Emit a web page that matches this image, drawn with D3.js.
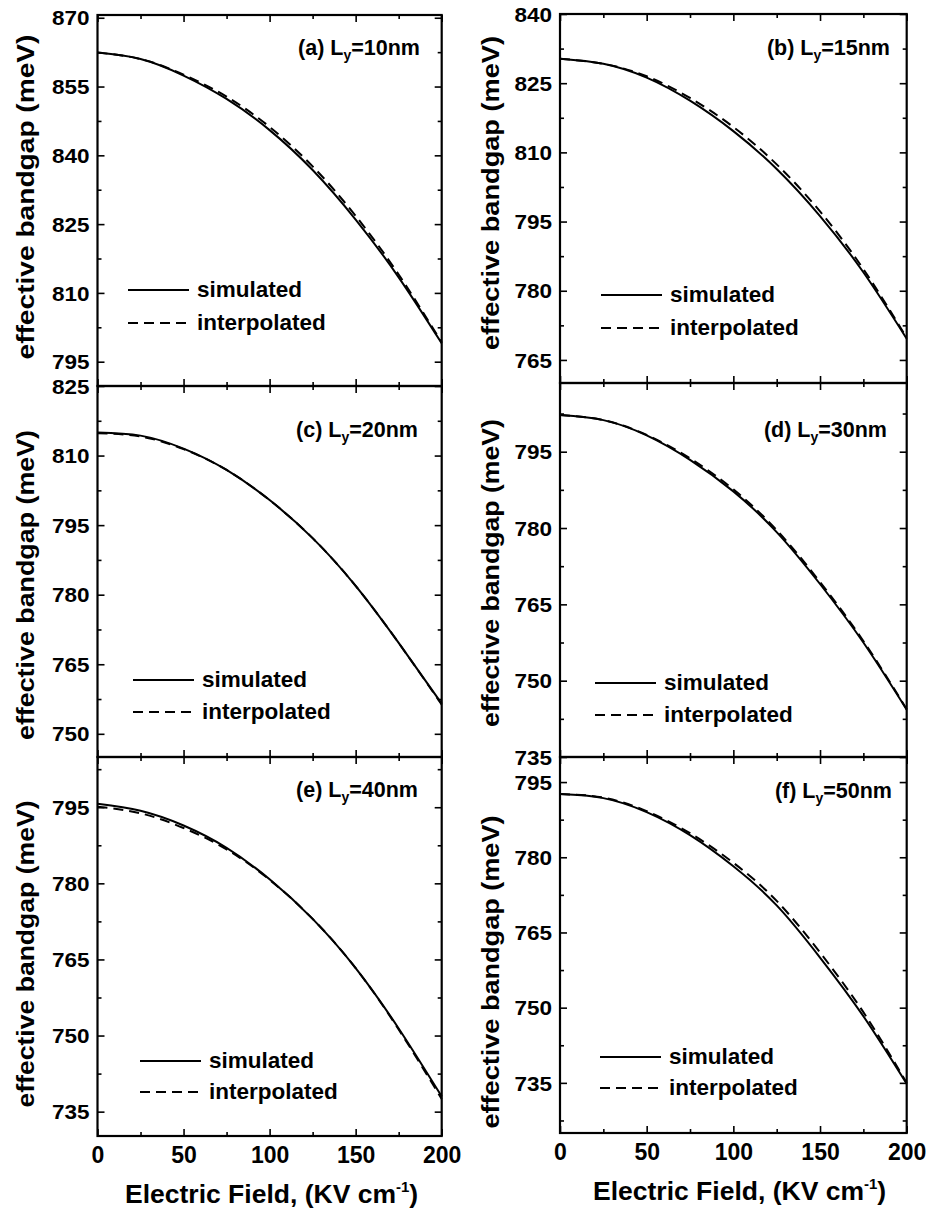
<!DOCTYPE html>
<html>
<head>
<meta charset="utf-8">
<script src="https://cdn.jsdelivr.net/npm/d3@7"></script>
<style>
  body { margin: 0; background: #fff; }
  text { font-family: "Liberation Sans", Arial, Helvetica, sans-serif; font-weight: bold; fill: #000; }
</style>
</head>
<body>
<svg id="chart" width="928" height="1216"></svg>
<script>
// ---------------- DATA ----------------
const fieldKV = [0, 25, 50, 75, 100, 125, 150, 175, 200];
const xMajorTicks = [0, 50, 100, 150, 200];
const xMinorTicks = [25, 75, 125, 175];
const panelLetters = ["a", "b", "c", "d", "e", "f"];
const widthsNm = ["10", "15", "20", "30", "40", "50"];
const legendLabels = ["simulated", "interpolated"];
const yTitle = "effective bandgap (meV)";
const xTitle = "Electric Field, (KV cm";

const simulatedA    = [862.4, 861.0, 857.4, 852.3, 845.5, 836.8, 826.0, 813.4, 799.0];
const interpolatedA = [862.4, 861.0, 857.6, 852.8, 846.2, 837.6, 826.8, 814.0, 799.2];
const simulatedB    = [830.3, 829.2, 826.2, 821.2, 814.6, 806.4, 796.2, 784.0, 769.6];
const interpolatedB = [830.3, 829.2, 826.5, 821.8, 815.5, 807.4, 797.2, 784.7, 769.8];
const simulatedC    = [815.0, 814.3, 811.5, 806.9, 800.4, 792.2, 781.9, 769.6, 756.5];
const interpolatedC = [814.8, 814.1, 811.4, 806.9, 800.4, 792.2, 781.9, 769.6, 756.3];
const simulatedD    = [802.2, 801.2, 798.2, 793.4, 787.2, 779.2, 769.0, 757.5, 744.3];
const interpolatedD = [802.2, 801.2, 798.3, 793.7, 787.6, 779.6, 769.4, 757.8, 744.4];
const simulatedE    = [795.7, 794.3, 791.4, 787.0, 780.8, 773.0, 763.3, 751.4, 738.0];
const interpolatedE = [795.1, 793.8, 790.9, 786.7, 780.7, 773.0, 763.3, 751.2, 737.5];
const simulatedF    = [792.6, 791.8, 789.0, 784.4, 778.2, 770.4, 760.0, 748.3, 734.8];
const interpolatedF = [792.6, 791.9, 789.2, 784.8, 778.9, 771.3, 761.0, 749.1, 735.0];

const yRangeA = [789.7, 870.6];
const yRangeB = [760, 840];
const yRangeC = [745, 825];
const yRangeD = [735, 808.5];
const yRangeE = [730.2, 804.9];
const yRangeF = [725, 800];

const simulatedAll = [simulatedA, simulatedB, simulatedC, simulatedD, simulatedE, simulatedF];
const interpolatedAll = [interpolatedA, interpolatedB, interpolatedC, interpolatedD, interpolatedE, interpolatedF];
const yRangesAll = [yRangeA, yRangeB, yRangeC, yRangeD, yRangeE, yRangeF];

// ---------------- LAYOUT ----------------
const colX = [[97.5, 441.7], [560, 906.7]];
const boxes = [
  {col: 0, top: 15,  bottom: 386,  leg: [128, 290, 323],  lab: [420, 55],  yt: [33.5, 197, 325], bottomRow: false},
  {col: 1, top: 14,  bottom: 383,  leg: [601, 295, 328],  lab: [890, 55],  yt: [498.5, 193, 314], bottomRow: false},
  {col: 0, top: 386, bottom: 757,  leg: [133, 680, 712],  lab: [418, 437], yt: [33.5, 585, 310], bottomRow: false},
  {col: 1, top: 383, bottom: 757,  leg: [595, 683, 715],  lab: [887, 437], yt: [498.5, 573, 308], bottomRow: false},
  {col: 0, top: 757, bottom: 1136, leg: [140, 1061, 1092], lab: [418, 797], yt: [33.5, 954, 307], bottomRow: true},
  {col: 1, top: 757, bottom: 1133, leg: [600, 1057, 1088], lab: [892, 798], yt: [498.5, 972, 313], bottomRow: true}
];

const svg = d3.select("#chart");
const dash = "10,6";

panelLetters.forEach((letter, i) => {
  const b = boxes[i];
  const [x0, x1] = colX[b.col];
  const w = x1 - x0, h = b.bottom - b.top;
  const g = svg.append("g").attr("transform", `translate(${x0},${b.top})`);

  const x = d3.scaleLinear().domain([0, 200]).range([0, w]);
  const y = d3.scaleLinear().domain(yRangesAll[i]).range([h, 0]);

  const [lo, hi] = yRangesAll[i];
  const yMajor = d3.range(Math.ceil(lo / 15) * 15, hi + 0.01, 15);
  const yMinor = d3.range(Math.ceil(lo / 7.5) * 7.5, hi + 0.01, 7.5).filter(v => v % 15 !== 0);

  const styleAxis = sel => {
    sel.select(".domain").remove();
    sel.selectAll("line").attr("stroke", "#000").attr("stroke-width", 1.6);
  };

  // left axis with labels
  const la = g.append("g").call(d3.axisLeft(y).tickValues(yMajor).tickSizeInner(-7).tickSizeOuter(0)
    .tickPadding(8).tickFormat(d3.format("d")));
  styleAxis(la);
  la.selectAll("text").attr("font-size", 22.5).attr("transform", "scale(1,0.88)").attr("dy", "0.36em");
  styleAxis(g.append("g").call(d3.axisLeft(y).tickValues(yMinor).tickSize(-4).tickFormat("")));
  // right axis
  styleAxis(g.append("g").attr("transform", `translate(${w},0)`)
    .call(d3.axisRight(y).tickValues(yMajor).tickSize(-7).tickFormat("")));
  styleAxis(g.append("g").attr("transform", `translate(${w},0)`)
    .call(d3.axisRight(y).tickValues(yMinor).tickSize(-4).tickFormat("")));
  // top axis
  styleAxis(g.append("g").call(d3.axisTop(x).tickValues(xMajorTicks).tickSize(-7).tickFormat("")));
  styleAxis(g.append("g").call(d3.axisTop(x).tickValues(xMinorTicks).tickSize(-4).tickFormat("")));
  // bottom axis
  const ba = g.append("g").attr("transform", `translate(0,${h})`)
    .call(d3.axisBottom(x).tickValues(xMajorTicks).tickSizeInner(-7).tickSizeOuter(0).tickPadding(11)
      .tickFormat(b.bottomRow ? d3.format("d") : ""));
  styleAxis(ba);
  ba.selectAll("text").attr("font-size", 23);
  styleAxis(g.append("g").attr("transform", `translate(0,${h})`)
    .call(d3.axisBottom(x).tickValues(xMinorTicks).tickSize(-4).tickFormat("")));

  // frame
  g.append("rect").attr("width", w).attr("height", h)
    .attr("fill", "none").attr("stroke", "#000").attr("stroke-width", 2.2);

  // curves
  const pts = arr => arr.map((v, k) => [fieldKV[k], v]);
  const line = d3.line().x(d => x(d[0])).y(d => y(d[1])).curve(d3.curveNatural);
  g.append("path").attr("d", line(pts(interpolatedAll[i])))
    .attr("fill", "none").attr("stroke", "#000").attr("stroke-width", 2).attr("stroke-dasharray", dash);
  g.append("path").attr("d", line(pts(simulatedAll[i])))
    .attr("fill", "none").attr("stroke", "#000").attr("stroke-width", 2);

  // legend (absolute coordinates)
  const [lx, ly1, ly2] = b.leg;
  svg.append("line").attr("x1", lx).attr("x2", lx + 61).attr("y1", ly1).attr("y2", ly1)
    .attr("stroke", "#000").attr("stroke-width", 2);
  svg.append("line").attr("x1", lx).attr("x2", lx + 61).attr("y1", ly2).attr("y2", ly2)
    .attr("stroke", "#000").attr("stroke-width", 2).attr("stroke-dasharray", dash);
  svg.append("text").attr("x", lx + 69).attr("y", ly1 + 7).attr("font-size", 22.5).text(legendLabels[0]);
  svg.append("text").attr("x", lx + 69).attr("y", ly2 + 7).attr("font-size", 22.5).text(legendLabels[1]);

  // panel label
  const t = svg.append("text").attr("x", b.lab[0]).attr("y", b.lab[1]).attr("text-anchor", "end")
    .attr("font-size", 21.5);
  t.append("tspan").text(`(${letter}) L`);
  t.append("tspan").attr("font-size", 14).attr("dy", 5).text("y");
  t.append("tspan").attr("dy", -5).text(`=${widthsNm[i]}nm`);

  // y title
  svg.append("text")
    .attr("transform", `translate(${b.yt[0]},${b.yt[1]}) rotate(-90)`)
    .attr("text-anchor", "middle").attr("font-size", 24)
    .attr("textLength", b.yt[2]).attr("lengthAdjust", "spacingAndGlyphs")
    .text(yTitle);

  // x title
  if (b.bottomRow) {
    const xt = svg.append("text").attr("x", b.col === 0 ? 125 : 593).attr("y", b.bottom + 67)
      .attr("font-size", 26.5);
    xt.append("tspan").text(xTitle);
    xt.append("tspan").attr("font-size", 15).attr("dy", -11).text("-1");
    xt.append("tspan").attr("dy", 11).text(")");
  }
});
</script>
</body>
</html>
